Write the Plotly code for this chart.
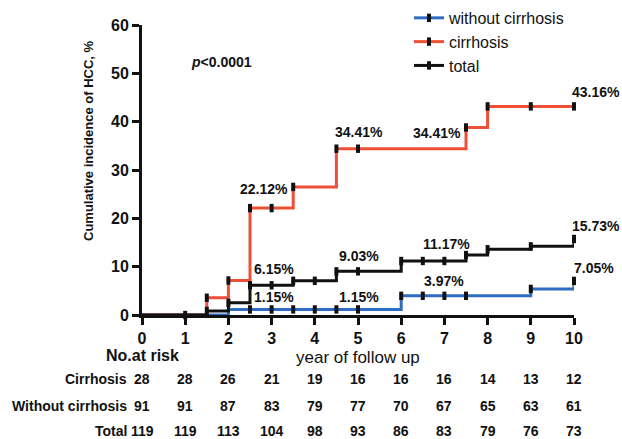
import plotly.graph_objects as go

# ---------------- data ----------------
years = list(range(11))

cir_t = [0, 1.5, 2, 2.5, 3.5, 4.5, 7.5, 8, 10]
cir_v = [0, 3.57, 7.14, 22.12, 26.5, 34.41, 38.8, 43.16, 43.16]
cir_cens = [1.5, 2, 2.5, 3, 3.5, 4.5, 5, 7.5, 8, 9, 10]

wo_t = [0, 2, 6, 9, 10]
wo_v = [0, 1.15, 3.97, 5.4, 7.05]
wo_cens = [2.5, 3, 3.5, 4, 4.5, 5, 6, 6.5, 7, 7.5, 9, 10]

tot_t = [0, 1.5, 2, 2.5, 3.5, 4.5, 6, 7.5, 8, 9, 10]
tot_v = [0, 0.84, 2.52, 6.15, 7.08, 9.03, 11.17, 12.4, 13.6, 14.2, 15.73]
tot_cens = [1, 1.5, 2, 2.5, 3, 3.5, 4, 4.5, 5, 6, 6.5, 7, 7.5, 8, 9, 10]

risk_cir = [28, 28, 26, 21, 19, 16, 16, 16, 14, 13, 12]
risk_wo = [91, 91, 87, 83, 79, 77, 70, 67, 65, 63, 61]
risk_tot = [119, 119, 113, 104, 98, 93, 86, 83, 79, 76, 73]

# percentage labels inside the axis range: (text, x, y)
pct_labels = [
    ("22.12%", 2.82, 26.0), ("34.41%", 5.03, 37.8), ("34.41%", 6.83, 37.6),
    ("6.15%", 3.05, 9.5), ("1.15%", 3.05, 3.7),
    ("9.03%", 5.03, 12.2), ("1.15%", 5.03, 3.7), ("11.17%", 7.04, 14.7),
    ("3.97%", 6.99, 7.0),
]
# labels to the right of the last year (x in plot fraction, y in data)
end_labels = [("43.16%", 1.051, 46.1), ("15.73%", 1.051, 18.4), ("7.05%", 1.046, 9.7)]

RED = "#EE4F36"
BLUE = "#2F6CC4"
BLACK = "#111111"
FONT = "Liberation Sans, Arial, sans-serif"


def step_at(ts, vs, t):
    val = vs[0]
    for ti, vi in zip(ts, vs):
        if ti <= t:
            val = vi
    return val


fig = go.Figure()

series = [
    ("without cirrhosis", wo_t, wo_v, wo_cens, BLUE),
    ("cirrhosis", cir_t, cir_v, cir_cens, RED),
    ("total", tot_t, tot_v, tot_cens, BLACK),
]

for name, ts, vs, cens, col in series:
    fig.add_trace(go.Scatter(
        x=ts, y=vs, mode="lines", line=dict(color=col, width=3, shape="hv"),
        showlegend=False, cliponaxis=False, hoverinfo="skip"))
for name, ts, vs, cens, col in series:
    fig.add_trace(go.Scatter(
        x=cens, y=[step_at(ts, vs, c) for c in cens], mode="markers",
        marker=dict(symbol="line-ns", size=6, line=dict(color=BLACK, width=4)),
        showlegend=False, cliponaxis=False, hoverinfo="skip"))
for name, ts, vs, cens, col in series:
    fig.add_trace(go.Scatter(
        x=[None], y=[None], mode="lines+markers", name=name,
        line=dict(color=col, width=3),
        marker=dict(symbol="line-ns", size=6, line=dict(color=BLACK, width=4))))

BOLD14 = dict(size=14, weight="bold", family=FONT)
ann = []
for txt, x, y in pct_labels:
    ann.append(dict(text=txt, x=x, y=y, xref="x", yref="y", showarrow=False,
                    xanchor="center", yanchor="middle", font=BOLD14))
for txt, x, y in end_labels:
    ann.append(dict(text=txt, x=x, y=y, xref="paper", yref="y", showarrow=False,
                    xanchor="center", yanchor="middle", font=BOLD14))

ann.append(dict(text="<i>p</i>&lt;0.0001", x=1.84, y=52.3, xref="x", yref="y",
                showarrow=False, xanchor="center", yanchor="middle", font=BOLD14))

ann.append(dict(text="Cumulative incidence of HCC, %", textangle=-90,
                x=-0.125, y=0.6, xref="paper", yref="paper", showarrow=False,
                xanchor="center", yanchor="middle",
                font=dict(size=13, weight="bold", family=FONT)))

ann.append(dict(text="year of follow up", x=5, y=-0.148, xref="x", yref="paper",
                showarrow=False, xanchor="center", yanchor="middle",
                font=dict(size=17, family=FONT)))
ann.append(dict(text="No.at risk", x=0, y=-0.141, xref="x", yref="paper",
                showarrow=False, xanchor="center", yanchor="middle",
                font=dict(size=16, weight="bold", family=FONT)))

rows = [("Cirrhosis", risk_cir, -0.221), ("Without cirrhosis", risk_wo, -0.314),
        ("Total", risk_tot, -0.400)]
for label, vals, yy in rows:
    ann.append(dict(text=label, x=-0.031, y=yy, xref="paper", yref="paper",
                    xanchor="right", yanchor="middle", showarrow=False, font=BOLD14))
    for yr, v in zip(years, vals):
        ann.append(dict(text=str(v), x=yr, y=yy, xref="x", yref="paper",
                        xanchor="center", yanchor="middle", showarrow=False,
                        font=BOLD14))

fig.update_layout(
    width=622, height=439,
    margin=dict(l=142, r=48, t=25, b=124, autoexpand=False),
    plot_bgcolor="white", paper_bgcolor="white",
    font=dict(family=FONT, color=BLACK),
    annotations=ann,
    legend=dict(x=0.618, y=1.083, xanchor="left", yanchor="top",
                font=dict(size=16, family=FONT), bgcolor="rgba(0,0,0,0)",
                tracegroupgap=0),
)
axis_common = dict(showline=True, linecolor=BLACK, linewidth=3, showgrid=False,
                   zeroline=False, ticks="outside", ticklen=7, tickwidth=3,
                   tickcolor=BLACK, automargin=False,
                   tickfont=dict(size=16, weight="bold", family=FONT))
fig.update_xaxes(range=[0, 10], tickvals=years, **axis_common)
fig.update_yaxes(range=[0, 60], tickvals=[0, 10, 20, 30, 40, 50, 60], **axis_common)

fig.write_html("out.html", config={"displayModeBar": False},
               post_script="document.body.style.margin='0px';"
                           "document.body.style.overflow='hidden';")
